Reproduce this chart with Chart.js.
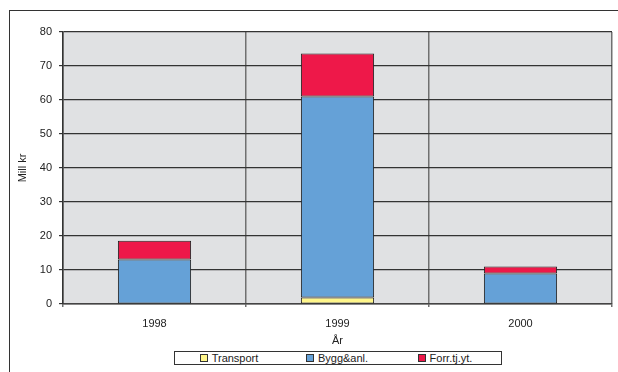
<!DOCTYPE html>
<html>
<head>
<meta charset="utf-8">
<script src="https://cdn.jsdelivr.net/npm/chart.js@4/dist/chart.umd.min.js"></script>
<style>
    html, body { margin: 0; padding: 0; background: #fff; }
    #wrap { position: relative; width: 618px; height: 372px; overflow: hidden; }
    #frame {
        position: absolute; left: 9px; top: 10px; right: -10px; bottom: -10px;
        border-left: 1.5px solid #333; border-top: 1.5px solid #333;
    }
    canvas { position: absolute; left: 0; top: 0; }
    #legend {
        position: absolute; left: 174px; top: 351px; width: 326px; height: 12px;
        border: 1px solid #333; display: flex; align-items: center;
        font: 11px 'Liberation Sans', Arial, sans-serif; color: #222;
        background: #fff;
    }
    #legend .item { width: 108px; display: flex; align-items: center; justify-content: center; }
    #legend .box { width: 6px; height: 6px; border: 1px solid #333; margin-right: 4px; }
</style>
</head>
<body>
<div id="wrap">
    <div id="frame"></div>
    <canvas id="chart" width="618" height="372"></canvas>
    <div id="legend"></div>
</div>
<script>
const years = ['1998', '1999', '2000'];
const transport = [0, 1.9, 0];
const bygg = [13.1, 59.1, 9.0];
const forr = [5.5, 12.7, 2.0];
const yTicks = [0, 10, 20, 30, 40, 50, 60, 70, 80];

const colors = {
    transport: '#fff68a',
    bygg: '#65a1d7',
    forr: '#ee1849',
};
const font = { family: "'Liberation Sans', Arial, sans-serif", size: 11 };

const plotBg = {
    id: 'plotBg',
    beforeDraw(chart) {
        const { ctx, chartArea: a } = chart;
        ctx.save();
        ctx.fillStyle = '#e0e1e3';
        ctx.fillRect(a.left, a.top, a.right - a.left, a.bottom - a.top);
        ctx.restore();
    },
};

const datasets = [
    { label: 'Transport', data: transport, backgroundColor: colors.transport },
    { label: 'Bygg&anl.', data: bygg, backgroundColor: colors.bygg },
    { label: 'Forr.tj.yt.', data: forr, backgroundColor: colors.forr },
].map(d => ({
    ...d,
    borderColor: '#222',
    borderWidth: 1,
    borderSkipped: false,
    categoryPercentage: 1,
    barPercentage: 0.4,
}));

new Chart(document.getElementById('chart'), {
    type: 'bar',
    data: { labels: years, datasets },
    options: {
        responsive: false,
        animation: false,
        layout: { padding: { left: 0, right: 6, top: 32, bottom: 23 } },
        plugins: { legend: { display: false }, tooltip: { enabled: false } },
        scales: {
            x: {
                stacked: true,
                grid: { offset: true, color: '#707070', lineWidth: 1.5, tickLength: 3 },
                border: { color: '#444', width: 1.5 },
                ticks: { font, color: '#222', padding: 10 },
                title: { display: true, text: 'År', font, color: '#222', padding: { top: 0, bottom: 1 } },
                afterFit(s) { s.height = 45; },
            },
            y: {
                stacked: true,
                min: 0,
                max: 80,
                afterBuildTicks(s) { s.ticks = yTicks.map(v => ({ value: v })); },
                grid: { color: '#333', lineWidth: 1.2, tickLength: 4 },
                border: { color: '#333', width: 1.5 },
                ticks: { font, color: '#222', padding: 7 },
                title: { display: true, text: 'Mill kr', font, color: '#222', padding: { top: 16, bottom: 0 } },
                afterFit(s) { s.width = 63; },
            },
        },
    },
    plugins: [plotBg],
});

const legend = document.getElementById('legend');
datasets.forEach(d => {
    const item = document.createElement('div');
    item.className = 'item';
    const box = document.createElement('span');
    box.className = 'box';
    box.style.background = d.backgroundColor;
    const txt = document.createElement('span');
    txt.textContent = d.label;
    item.appendChild(box);
    item.appendChild(txt);
    legend.appendChild(item);
});
</script>
</body>
</html>
